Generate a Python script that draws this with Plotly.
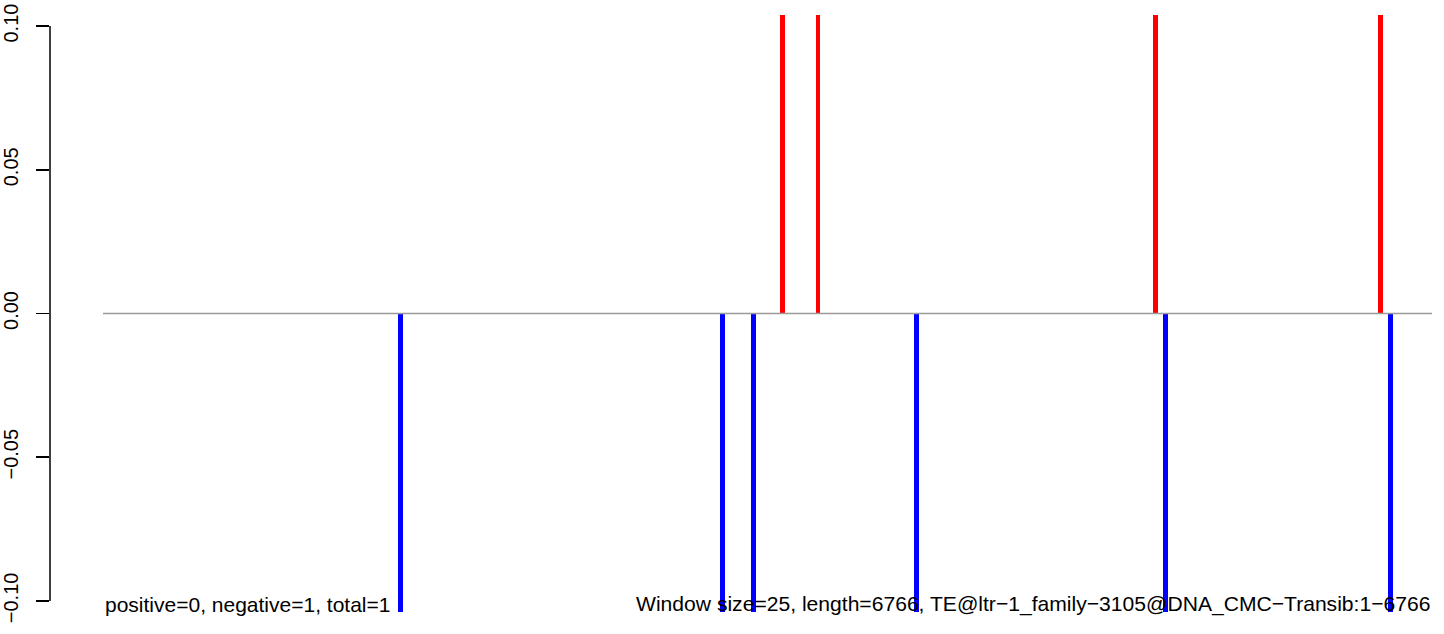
import plotly.graph_objects as go

# Data (positions in bp, window size 25)
seq_length = 6766
window_size = 25
pos_x = [3460, 3640, 5360, 6505]          # positive-strand hits
pos_y = [1, 1, 1, 1]
neg_x = [1515, 3155, 3310, 4140, 5410, 6555]  # negative-strand hits
neg_y = [-1, -1, -1, -1, -1, -1]
y_ticks = [-0.10, -0.05, 0.00, 0.05, 0.10]
y_tick_labels = ["\u22120.10", "\u22120.05", "0.00", "0.05", "0.10"]
left_label = "positive=0, negative=1, total=1"
right_label = ("Window size=25, length=6766, "
               "TE@ltr\u22121_family\u22123105@DNA_CMC\u2212Transib:1\u22126766")

Y_LIM = 0.10385
X_RANGE = [-270, 6827]
FONT = "Liberation Sans, Arial, Helvetica, sans-serif"

fig = go.Figure()
fig.add_trace(go.Bar(x=pos_x, y=pos_y, width=window_size,
                     marker=dict(color="#ff0000", line=dict(width=0)),
                     showlegend=False, hoverinfo="skip"))
fig.add_trace(go.Bar(x=neg_x, y=neg_y, width=window_size,
                     marker=dict(color="#0000ff", line=dict(width=0)),
                     showlegend=False, hoverinfo="skip"))
fig.add_trace(go.Scatter(x=[0, seq_length], y=[0, 0], mode="lines",
                         line=dict(color="#9a9a9a", width=1.3),
                         showlegend=False, hoverinfo="skip"))

# y axis line spanning only the tick range (R style)
def yfrac(v):
    return (v + Y_LIM) / (2 * Y_LIM)

fig.add_shape(type="line", xref="paper", yref="paper",
              x0=0, x1=0, y0=yfrac(min(y_ticks)), y1=yfrac(max(y_ticks)),
              line=dict(color="black", width=1.5))

fig.add_annotation(x=0, xref="x", y=0, yref="paper", yshift=-6,
                   text=left_label, showarrow=False,
                   xanchor="left", yanchor="bottom",
                   font=dict(family=FONT, size=21, color="black"))
fig.add_annotation(x=seq_length, xref="x", y=0, yref="paper", yshift=-6,
                   text=right_label, showarrow=False,
                   xanchor="right", yanchor="bottom",
                   font=dict(family=FONT, size=21.1, color="black"))

fig.update_layout(
    width=1444, height=634,
    margin=dict(l=50, r=0, t=15, b=22, autoexpand=False),
    paper_bgcolor="white", plot_bgcolor="white",
    barmode="overlay", bargap=0,
    font=dict(family=FONT, color="black"),
    xaxis=dict(range=X_RANGE, showgrid=False, zeroline=False, showline=False,
               showticklabels=False, ticks="", automargin=False),
    yaxis=dict(range=[-Y_LIM, Y_LIM], tickvals=y_ticks, ticktext=y_tick_labels,
               ticks="outside", ticklen=13, tickwidth=1.5, tickcolor="black",
               tickangle=-90, ticklabelstandoff=10, automargin=False,
               tickfont=dict(family=FONT, size=20, color="black"),
               showgrid=False, zeroline=False, showline=False),
)

fig.write_html(
    "out.html",
    config={"displayModeBar": False, "staticPlot": True},
    post_script="document.body.style.margin='0';document.body.style.overflow='hidden';",
)
